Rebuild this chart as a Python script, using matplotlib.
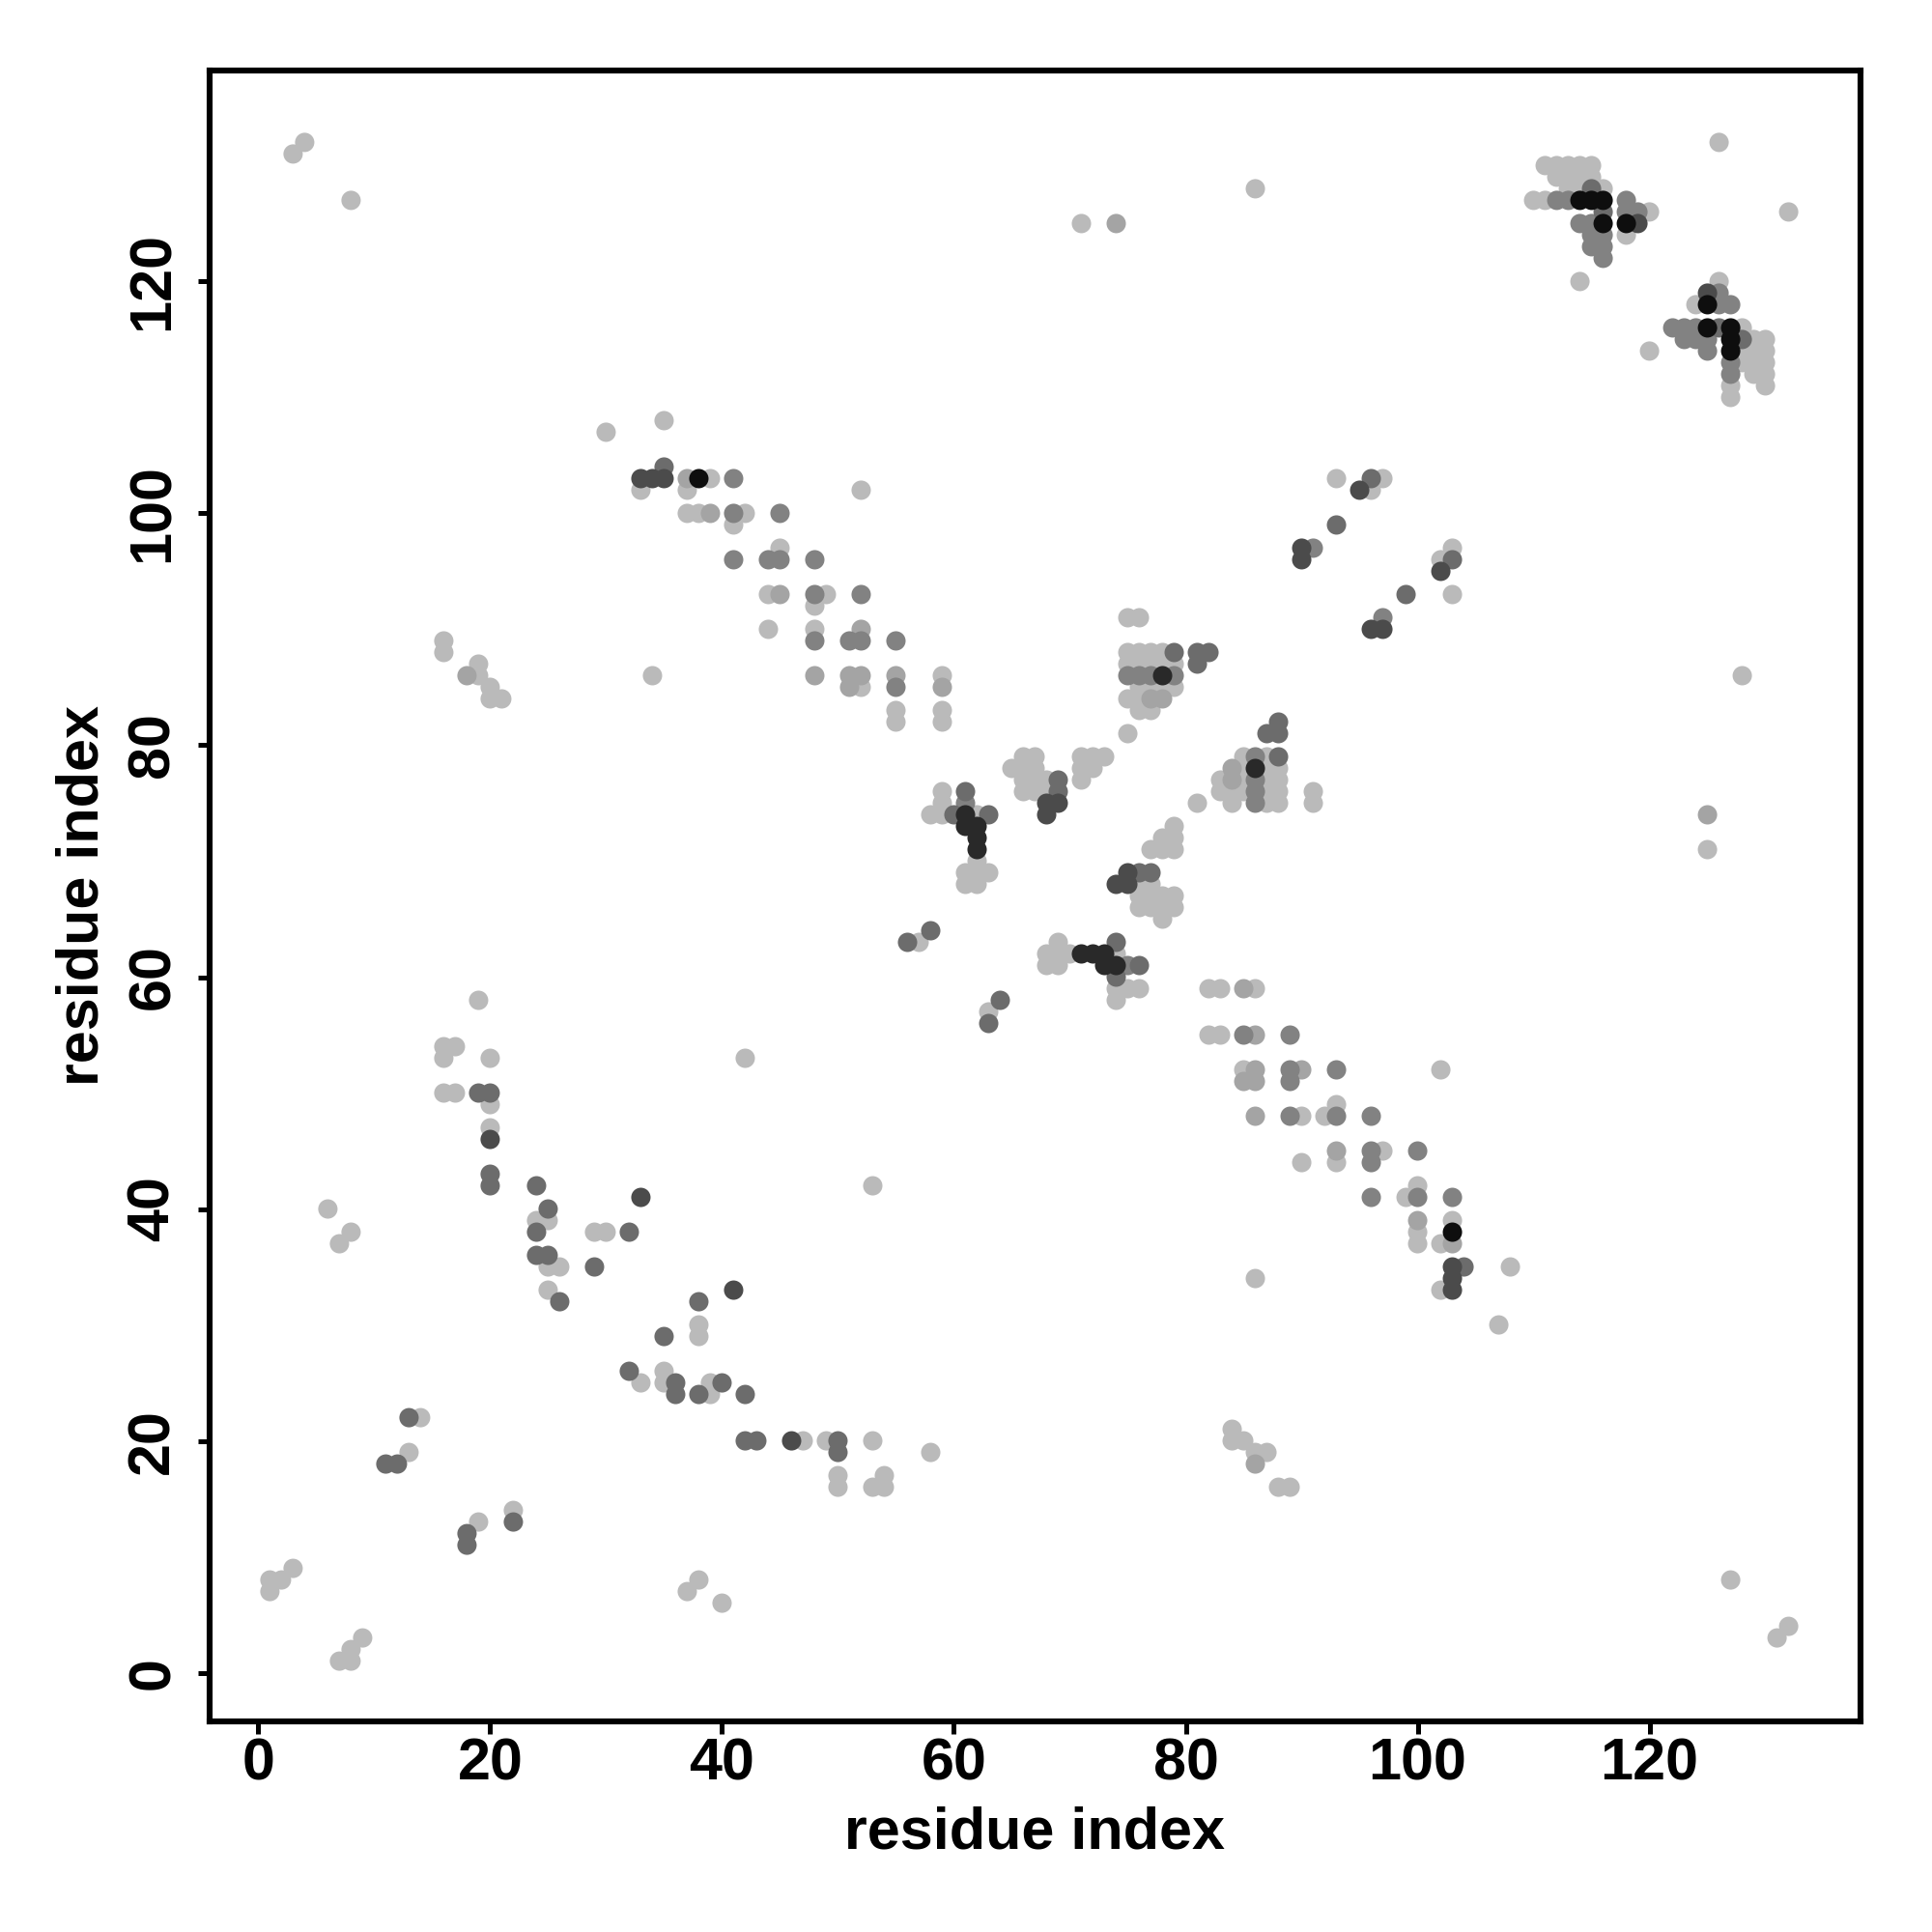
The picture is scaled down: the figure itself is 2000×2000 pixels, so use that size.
import matplotlib
matplotlib.use('Agg')
import matplotlib.pyplot as plt
import numpy as np

# Contact pairs (i < j); each is drawn at (i, j) and at (j, i)
# probability levels: 0.2 light ... 0.97 black
res_i = [1, 1, 2, 3, 6, 7, 8, 3, 4, 8,
         11, 12, 13, 13, 14,
         16, 17, 16, 16, 17, 19, 20, 20, 20, 20, 20, 20, 20, 19,
         16, 16, 18, 19, 19, 20, 20, 21,
         24, 25, 24, 25, 24, 33, 29, 30, 32, 24, 25, 25, 26, 29, 25, 26,
         34, 42,
         44, 44, 45, 44, 45, 45, 45, 41, 41, 42, 41, 41, 39, 38, 37, 39, 38, 37, 37,
         35, 35, 34, 33, 33, 35, 30, 52,
         48, 48, 49, 48, 52, 48, 48, 51, 52, 52, 55, 48, 51, 52, 51, 52, 55, 55, 55, 55,
         59, 59, 59, 59,
         56, 57, 58,
         59, 61, 59, 61, 58, 59, 60, 61, 62, 63, 61, 62, 62, 62, 62, 61, 62, 63, 61, 62,
         66, 67, 65, 66, 67, 66, 67, 68, 69, 66, 67, 68, 69, 68, 69, 68,
         71, 72, 73, 71, 72, 71,
         75, 76, 75, 76, 77, 78, 79, 81, 82, 81, 75, 76, 77, 78, 79, 75, 76, 77, 78, 79,
         76, 77, 78, 79, 75, 76, 77, 78, 76, 77, 75,
         90, 91, 90, 93, 95, 96, 93, 96, 97,
         71, 74, 86,
         111, 112, 113, 114, 115, 112, 113, 114, 115, 113, 114, 115, 116,
         110, 111, 112, 113, 114, 115, 116, 118, 116, 118, 119, 120,
         114, 115, 116, 118, 119, 118, 115, 116, 115, 116, 116, 114, 126]
res_j = [7, 8, 8, 9, 40, 37, 38, 131, 132, 127,
         18, 18, 19, 22, 22,
         50, 50, 53, 54, 54, 50, 50, 49, 47, 46, 43, 42, 53, 58,
         88, 89, 86, 86, 87, 84, 85, 84,
         42, 40, 39, 39, 38, 41, 38, 38, 38, 36, 36, 35, 35, 35, 33, 32,
         86, 53,
         90, 93, 93, 96, 96, 97, 100, 96, 99, 100, 100, 103, 100, 100, 100, 103, 103, 102, 103,
         103, 104, 103, 103, 102, 108, 107, 102,
         96, 93, 93, 92, 93, 90, 89, 89, 89, 90, 89, 86, 86, 86, 85, 85, 86, 85, 83, 82,
         86, 85, 83, 82,
         63, 63, 64,
         76, 76, 75, 75, 74, 74, 74, 74, 74, 74, 73, 73, 72, 71, 70, 69, 69, 69, 68, 68,
         79, 79, 78, 78, 78, 77, 77, 77, 77, 76, 76, 76, 76, 75, 75, 74,
         79, 79, 79, 78, 78, 77,
         91, 91, 88, 88, 88, 88, 88, 88, 88, 87, 87, 87, 87, 87, 87, 86, 86, 86, 86, 86,
         85, 85, 85, 85, 84, 84, 84, 84, 83, 83, 81,
         97, 97, 96, 99, 102, 102, 103, 103, 103,
         125, 125, 128,
         130, 130, 130, 130, 130, 129, 129, 129, 129, 128, 128, 128, 128,
         127, 127, 127, 127, 127, 127, 127, 127, 126, 126, 126, 126,
         125, 125, 125, 125, 125, 124, 124, 124, 123, 123, 122, 120, 132]
prob = [0.2, 0.2, 0.2, 0.2, 0.2, 0.2, 0.2, 0.2, 0.2, 0.2,
        0.55, 0.55, 0.2, 0.55, 0.2,
        0.2, 0.2, 0.2, 0.2, 0.2, 0.55, 0.55, 0.2, 0.2, 0.7, 0.55, 0.55, 0.2, 0.2,
        0.2, 0.2, 0.3, 0.2, 0.2, 0.2, 0.2, 0.2,
        0.55, 0.55, 0.2, 0.2, 0.55, 0.7, 0.2, 0.2, 0.55, 0.55, 0.55, 0.2, 0.2, 0.55, 0.2, 0.55,
        0.2, 0.2,
        0.2, 0.2, 0.3, 0.45, 0.45, 0.2, 0.45, 0.45, 0.2, 0.2, 0.45, 0.45, 0.3, 0.2, 0.2, 0.2, 0.97, 0.2, 0.3,
        0.7, 0.55, 0.7, 0.7, 0.2, 0.2, 0.2, 0.2,
        0.45, 0.45, 0.2, 0.2, 0.45, 0.2, 0.45, 0.45, 0.45, 0.3, 0.45, 0.3, 0.3, 0.3, 0.3, 0.2, 0.3, 0.45, 0.2, 0.2,
        0.2, 0.3, 0.2, 0.2,
        0.55, 0.2, 0.55,
        0.2, 0.55, 0.2, 0.45, 0.2, 0.2, 0.55, 0.85, 0.2, 0.55, 0.85, 0.85, 0.85, 0.85, 0.2, 0.2, 0.2, 0.2, 0.2, 0.2,
        0.2, 0.2, 0.2, 0.2, 0.2, 0.2, 0.2, 0.2, 0.55, 0.2, 0.2, 0.2, 0.55, 0.7, 0.7, 0.7,
        0.2, 0.2, 0.2, 0.2, 0.2, 0.2,
        0.2, 0.2, 0.2, 0.2, 0.2, 0.2, 0.55, 0.55, 0.55, 0.55, 0.2, 0.2, 0.2, 0.2, 0.2, 0.45, 0.45, 0.45, 0.85, 0.45,
        0.2, 0.2, 0.2, 0.2, 0.2, 0.2, 0.3, 0.3, 0.2, 0.2, 0.2,
        0.7, 0.45, 0.7, 0.55, 0.7, 0.2, 0.2, 0.55, 0.2,
        0.2, 0.3, 0.2,
        0.2, 0.2, 0.2, 0.2, 0.2, 0.2, 0.2, 0.2, 0.2, 0.2, 0.2, 0.55, 0.2,
        0.2, 0.2, 0.45, 0.45, 0.97, 0.97, 0.97, 0.45, 0.55, 0.45, 0.45, 0.2,
        0.45, 0.45, 0.97, 0.97, 0.7, 0.2, 0.45, 0.45, 0.45, 0.45, 0.45, 0.2, 0.2]

tick_vals = [0, 20, 40, 60, 80, 100, 120]
axis_label = "residue index"

plt.rcParams['font.family'] = ['Liberation Sans', 'DejaVu Sans']
plt.rcParams['font.weight'] = 'bold'

W = 2000
fig = plt.figure(figsize=(10, 10), dpi=200)
ax = fig.add_axes([217 / W, 1 - 1782 / W, (1926 - 217) / W, (1782 - 73) / W])

i = np.array(res_i)
j = np.array(res_j)
p = np.array(prob)
xs = np.concatenate([i, j])
ys = np.concatenate([j, i])
pp = np.concatenate([p, p])
order = np.argsort(pp, kind='stable')
gray = np.clip(0.73 - 0.70 * (pp - 0.2) / 0.8, 0, 1)
cols = [(g, g, g) for g in gray[order]]
ax.scatter(xs[order], ys[order], s=52, c=cols, linewidths=0, zorder=3)

ax.set_xlim(-4.2, 138.2)
ax.set_ylim(-4.2, 138.2)
ax.set_xticks(tick_vals)
ax.set_yticks(tick_vals)
ax.set_xticklabels([str(t) for t in tick_vals], fontsize=22, fontweight='bold')
ax.set_yticklabels([str(t) for t in tick_vals], fontsize=22, fontweight='bold',
                   rotation=90, va='center')
ax.tick_params(axis='both', direction='out', length=4.5, width=1.8, color='black')
ax.tick_params(axis='x', pad=1.5)
ax.tick_params(axis='y', pad=6)
for sp in ax.spines.values():
    sp.set_linewidth(2.2)
    sp.set_color('black')

fig.text(1071 / W, 1 - 1913 / W, axis_label, fontsize=22, fontweight='bold',
         ha='center', va='baseline')
fig.text(102 / W, 1 - 927 / W, axis_label, fontsize=22, fontweight='bold',
         ha='center', va='baseline', rotation=90, rotation_mode='anchor')

fig.savefig('out.png', dpi=200, facecolor='white')
